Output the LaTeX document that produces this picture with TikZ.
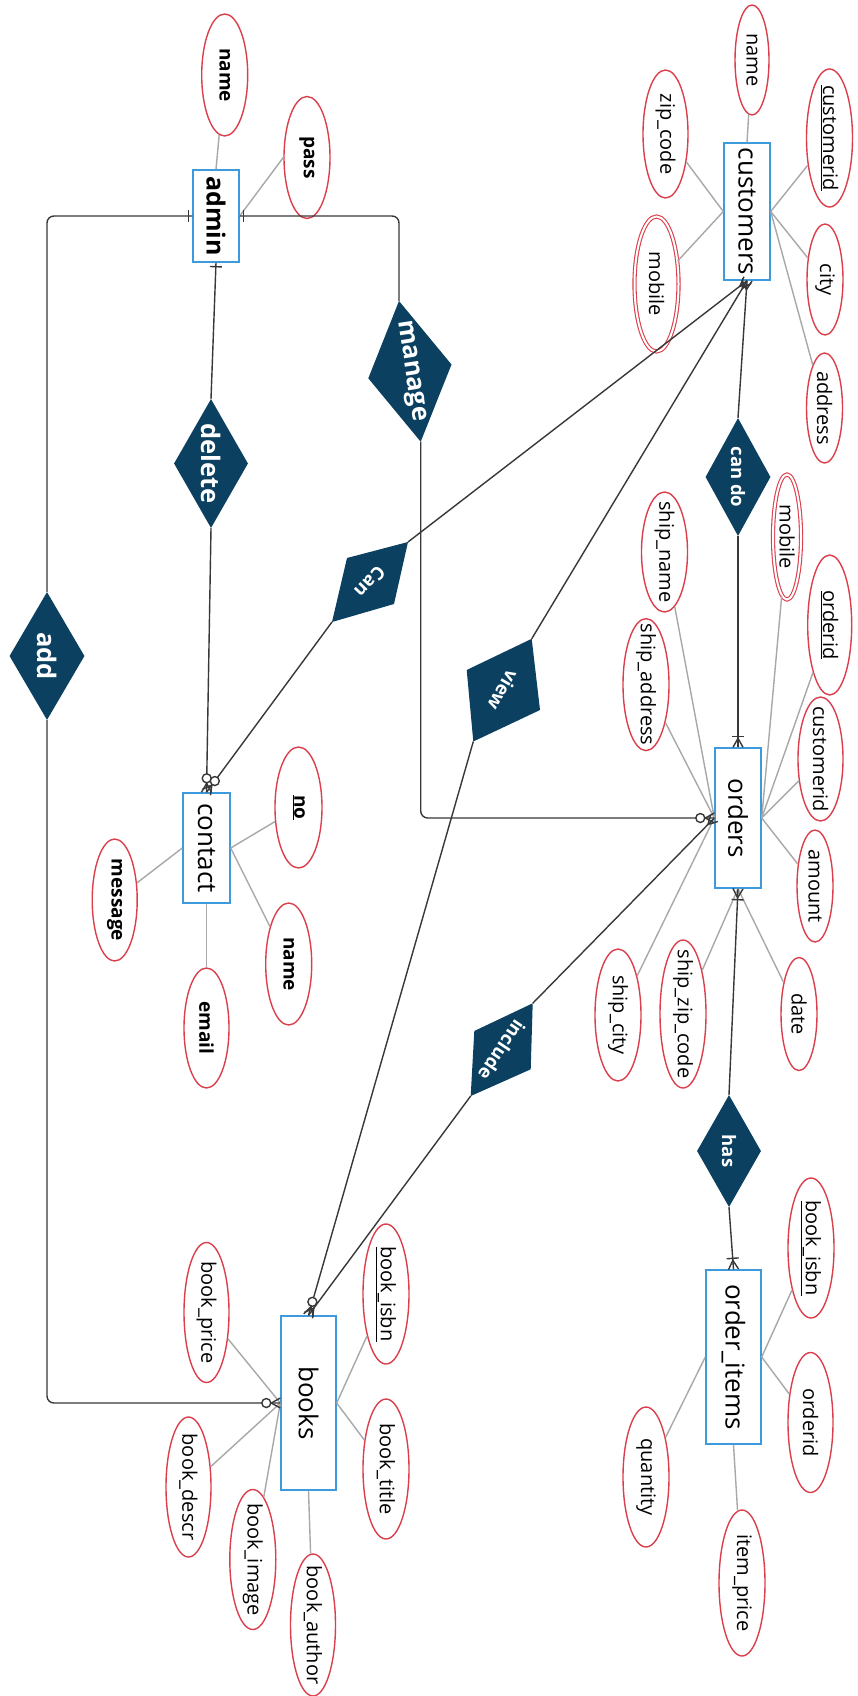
\documentclass[tikz,border=0pt]{standalone}
\usepackage{fontspec}
\setmainfont{Open Sans}
\usetikzlibrary{shapes.geometric,calc}
\definecolor{entblue}{HTML}{3D9BDD}
\definecolor{attrred}{HTML}{DC3F4C}
\definecolor{relblue}{HTML}{0B4060}
\definecolor{lgray}{HTML}{A8A8A8}
\definecolor{dgray}{HTML}{383838}
\newcommand{\mkmany}[2]{\draw[conn] ($(#1)!5pt!90:(#2)$) -- ($(#1)!9pt!(#2)$) -- ($(#1)!5pt!-90:(#2)$);}
\newcommand{\mkbar}[3]{\draw[conn] ($($(#1)!#3!(#2)$)!6pt!90:(#2)$) -- ($($(#1)!#3!(#2)$)!6pt!-90:(#2)$);}
\newcommand{\mkzero}[2]{\draw[conn,fill=white] ($(#1)!14pt!(#2)$) circle[radius=4.5pt];}
\newcommand{\attrnode}[8]{%
  \node[attr,#6,minimum width={2*#4},minimum height={2*#5}] (#1) at (#2,#3) {};
  \node[#7] (#1-t) at (#1) {#8};}
\begin{document}
\begin{tikzpicture}[x=1pt,y=-1pt,
  entity/.style={draw=entblue, line width=1.4pt, fill=white, rectangle, inner sep=0pt},
  attr/.style={draw=attrred, line width=1.4pt, fill=white, ellipse, inner sep=0pt},
  dbl/.style={double=white, double distance=2pt, line width=1.1pt},
  rel/.style={fill=relblue, diamond, inner sep=0pt},
  etext/.style={inner sep=0pt, rotate=-90, font=\fontsize{26}{30}\selectfont},
  etextb/.style={inner sep=0pt, rotate=-90, font=\fontsize{25}{30}\selectfont\bfseries},
  atext/.style={inner sep=0pt, rotate=-90, font=\fontsize{20}{24}\selectfont},
  atextb/.style={inner sep=0pt, rotate=-90, font=\fontsize{19}{24}\selectfont\bfseries},
  rtext/.style={inner sep=0pt, text=white, font=\fontsize{25.5}{30}\selectfont\bfseries},
  rtexts/.style={inner sep=0pt, text=white, font=\fontsize{18.5}{22}\selectfont\bfseries},
  conn/.style={draw=dgray, line width=1.4pt},
  aline/.style={draw=lgray, line width=1.4pt}]
\fill[white] (0,0) rectangle (857,1696);
\useasboundingbox (0,0) rectangle (857,1696);

% entities
\node[entity, minimum width=46, minimum height=92] (admin) at (216,216) {};
\node[etextb] (admin-t) at (admin) {admin};
\node[entity, minimum width=46, minimum height=137] (customers) at (747,211.5) {};
\node[etext] (customers-t) at (customers) {customers};
\node[entity, minimum width=46, minimum height=140] (orders) at (738,818) {};
\node[etext] (orders-t) at (orders) {orders};
\node[entity, minimum width=47, minimum height=110] (contact) at (206.5,848) {};
\node[etext] (contact-t) at (contact) {contact};
\node[entity, minimum width=55, minimum height=174] (oitems) at (733.5,1357) {};
\node[etext] (oitems-t) at (oitems) {order\_items};
\node[entity, minimum width=55, minimum height=174] (books) at (308.5,1403) {};
\node[etext] (books-t) at (books) {books};

% upright relationships
\node[rel, minimum width=74, minimum height=129] (delete) at (211,463.5) {};
\node[rtext, rotate=-90] (delete-t) at (delete) {delete};
\node[rel, minimum width=75, minimum height=128] (add) at (47,656) {};
\node[rtext, rotate=-90] (add-t) at (add) {add};
\node[rel, minimum width=65, minimum height=118] (cando) at (738,477) {};
\node[rtexts, rotate=-90] (cando-t) at (cando) {can do};
\node[rel, minimum width=64, minimum height=112] (has) at (729,1151) {};
\node[rtexts, rotate=-90] (has-t) at (has) {has};

% skewed relationships
\coordinate (mT) at (399,301); \coordinate (mR) at (451.5,364.5);
\coordinate (mB) at (420.7,441.7); \coordinate (mL) at (368.3,378.3);
\fill[relblue] (mT) -- (mR) -- (mB) -- (mL) -- cycle;
\node[rtext, rotate=-81.2] (manage-t) at (410,371) {manage};
\coordinate (cA) at (408,542); \coordinate (cB) at (347,558);
\coordinate (cC) at (332,622); \coordinate (cD) at (394,604);
\fill[relblue] (cA) -- (cB) -- (cC) -- (cD) -- cycle;
\node[rtexts, rotate=-133.5] (can-t) at (370,582) {Can};
\coordinate (vA) at (531.7,638.8); \coordinate (vB) at (466.7,670);
\coordinate (vC) at (473.3,741.5); \coordinate (vD) at (540,710);
\fill[relblue] (vA) -- (vB) -- (vC) -- (vD) -- cycle;
\node[rtexts, rotate=-120] (view-t) at (503.3,690.2) {view};
\coordinate (iA) at (532.7,1003.3); \coordinate (iB) at (474.3,1031);
\coordinate (iC) at (470.7,1096); \coordinate (iD) at (530.7,1069.3);
\fill[relblue] (iA) -- (iB) -- (iC) -- (iD) -- cycle;
\node[rtexts, rotate=-124] (include-t) at (502,1050) {include};

% attributes
\attrnode{aname}{224.7}{75}{23}{61}{}{atextb}{name}
\attrnode{apass}{307}{157.5}{23}{61}{}{atextb}{pass}
\attrnode{cname}{752}{60}{17}{55}{}{atext}{name}
\attrnode{czip}{665.5}{134}{22.5}{64}{}{atext}{zip\_code}
\attrnode{cmobile}{656.5}{284}{22}{67.5}{dbl}{atext}{mobile}
\attrnode{cid}{829.5}{138}{23}{69}{}{atext}{\underline{customerid}}
\attrnode{ccity}{825}{279.5}{18}{55.5}{}{atext}{city}
\attrnode{caddr}{824.5}{408}{18}{55}{}{atext}{address}
\attrnode{omobile}{787}{537}{14}{62.5}{dbl}{atext}{mobile}
\attrnode{oid}{829.7}{625}{22}{70}{}{atext}{\underline{orderid}}
\attrnode{ocust}{820.5}{759}{22.5}{62}{}{atext}{customerid}
\attrnode{oamount}{815}{886}{18}{56}{}{atext}{amount}
\attrnode{odate}{799}{1014}{18}{56.5}{}{atext}{date}
\attrnode{oshipname}{664.5}{552}{23}{60}{}{atext}{ship\_name}
\attrnode{oshipaddr}{646}{684.6}{23}{66}{}{atext}{ship\_address}
\attrnode{oshipcity}{618}{1015}{23}{66}{}{atext}{ship\_city}
\attrnode{oshipzip}{683}{1014}{23}{74}{}{atext}{ship\_zip\_code}
\attrnode{kno}{298.5}{807.5}{23.5}{60.5}{}{atextb}{\underline{no}}
\attrnode{kname}{288.7}{964}{23}{61}{}{atextb}{name}
\attrnode{kmsg}{114.7}{900}{22.5}{61}{}{atextb}{message}
\attrnode{kemail}{206.5}{1028}{22.5}{60}{}{atextb}{email}
\attrnode{ibook}{811}{1248}{23}{70}{}{atext}{\underline{book\_isbn}}
\attrnode{iorder}{810.5}{1422.5}{22.5}{70}{}{atext}{orderid}
\attrnode{iqty}{646}{1477}{23}{70}{}{atext}{quantity}
\attrnode{iprice}{742}{1583}{23}{73}{}{atext}{item\_price}
\attrnode{bprice}{206.5}{1312.5}{22.5}{70}{}{atext}{book\_price}
\attrnode{bisbn}{386}{1294}{23}{70}{}{atext}{\underline{book\_isbn}}
\attrnode{btitle}{386}{1469}{23}{70}{}{atext}{book\_title}
\attrnode{bdescr}{188.5}{1487}{22.5}{70}{}{atext}{book\_descr}
\attrnode{bimage}{252.8}{1559.5}{23}{70}{}{atext}{book\_image}
\attrnode{bauthor}{313}{1625}{22.5}{71}{}{atext}{book\_author}

% attribute lines
\draw[aline] (aname) -- (admin.north);
\draw[aline] (apass.west) -- (admin.east);
\draw[aline] (cname) -- (customers.north);
\draw[aline] (czip) -- (customers.west);
\draw[aline] (cmobile) -- (customers.west);
\draw[aline] (cid) -- (customers.east);
\draw[aline] (ccity) -- (customers.east);
\draw[aline] (caddr) -- (customers.east);
\draw[aline] (omobile) -- (orders.east);
\draw[aline] (oid) -- (orders.east);
\draw[aline] (ocust) -- (orders.east);
\draw[aline] (oamount) -- (orders.east);
\draw[aline] (odate) -- (orders.south);
\draw[aline] (oshipzip) -- (orders.south);
\draw[aline] (oshipname) -- (orders.west);
\draw[aline] (oshipaddr) -- (orders.west);
\draw[aline] (oshipcity) -- (orders.west);
\draw[aline] (kno) -- (contact.east);
\draw[aline] (kname) -- (contact.east);
\draw[aline] (kmsg) -- (contact.west);
\draw[aline] (kemail) -- (contact.south);
\draw[aline] (ibook) -- (oitems.east);
\draw[aline] (iorder) -- (oitems.east);
\draw[aline] (iqty) -- (oitems.west);
\draw[aline] (iprice) -- (oitems.south);
\draw[aline] (bprice) -- (books.west);
\draw[aline] (bdescr) -- (books.west);
\draw[aline] (bimage) -- (books.west);
\draw[aline] (bisbn) -- (books.east);
\draw[aline] (btitle) -- (books.east);
\draw[aline] (bauthor) -- (books.south);

% connectors
\draw[conn, rounded corners=7pt] (admin.west) -| (add.north);
\draw[conn, rounded corners=7pt] (add.south) |- (books.west);
\draw[conn, rounded corners=7pt] (admin.east) -| (mT);
\draw[conn, rounded corners=7pt] (mB) |- (orders.west);
\draw[conn] (admin.south) -- (delete.north);
\draw[conn] (delete.south) -- (contact.north);
\draw[conn] (customers.south) -- (cA);
\draw[conn] (cC) -- (contact.north);
\draw[conn] (customers.south) -- (vA);
\draw[conn] (vC) -- (books.north);
\draw[conn] (orders.west) -- (iA);
\draw[conn] (iC) -- (books.north);
\draw[conn] (customers.south) -- (cando.north);
\draw[conn] (cando.south) -- (orders.north);
\draw[conn] (orders.south) -- (has.north);
\draw[conn] (has.south) -- (oitems.north);

% end markers
\coordinate (kA) at (add.north |- admin.west);
\coordinate (kM) at (mT |- admin.east);
\coordinate (kB) at (add.south |- books.west);
\coordinate (kO) at (mB |- orders.west);
\mkbar{admin.west}{kA}{4pt}
\mkbar{admin.east}{kM}{4pt}
\mkbar{admin.south}{delete.north}{4pt}
\mkmany{books.west}{kB} \mkzero{books.west}{kB}
\mkmany{orders.west}{kO} \mkzero{orders.west}{kO}
\mkmany{orders.west}{iA}
\mkmany{contact.north}{delete.south} \mkzero{contact.north}{delete.south}
\mkmany{contact.north}{cC} \mkzero{contact.north}{cC}
\mkmany{books.north}{vC} \mkzero{books.north}{vC}
\mkmany{books.north}{iC}
\mkmany{customers.south}{cA}
\mkmany{customers.south}{vA}
\mkmany{customers.south}{cando.north}
\mkmany{orders.north}{cando.south} \mkbar{orders.north}{cando.south}{11pt}
\mkmany{orders.south}{has.north} \mkbar{orders.south}{has.north}{11pt}
\mkmany{oitems.north}{has.south} \mkbar{oitems.north}{has.south}{11pt}
\end{tikzpicture}
\end{document}
